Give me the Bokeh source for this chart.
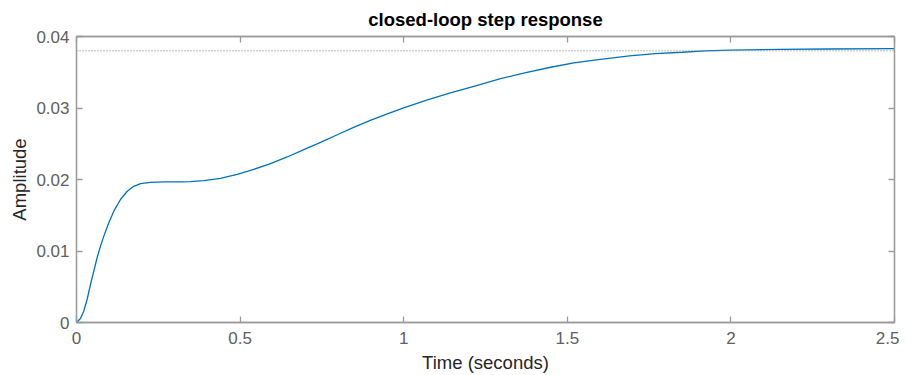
from bokeh.plotting import figure
from bokeh.models import Range1d, FixedTicker, LinearAxis, Span
from bokeh.embed import file_html
from bokeh.resources import INLINE

# Step response samples
time_s = [0, 0.0122, 0.0224, 0.0326, 0.0428, 0.053, 0.063, 0.0733, 0.0835, 0.0988,
          0.114, 0.1345, 0.155, 0.175, 0.1956, 0.226, 0.267, 0.318, 0.348, 0.389,
          0.44, 0.491, 0.542, 0.593, 0.644, 0.695, 0.746, 0.797, 0.847, 0.898,
          0.95, 1.0, 1.07, 1.143, 1.22, 1.296, 1.37, 1.449, 1.52, 1.601, 1.69,
          1.77, 1.85, 1.92, 2.0, 2.15, 2.3, 2.5]
amplitude = [0, 0.00056, 0.00162, 0.00325, 0.00534, 0.0072, 0.00906, 0.01068,
             0.01208, 0.01395, 0.01557, 0.0172, 0.01836, 0.01905, 0.01943, 0.0196,
             0.01966, 0.01968, 0.01971, 0.01985, 0.02017, 0.02073, 0.02143,
             0.02222, 0.02315, 0.02417, 0.02519, 0.02626, 0.02728, 0.02826,
             0.02919, 0.03003, 0.0311, 0.0321, 0.0331, 0.0341, 0.0349, 0.0357,
             0.0363, 0.0368, 0.0373, 0.0376, 0.0378, 0.0380, 0.0381, 0.0382,
             0.03825, 0.0383]
steady_state = 0.0380

x_ticks = [0, 0.5, 1, 1.5, 2, 2.5]
x_tick_labels = ["0", "0.5", "1", "1.5", "2", "2.5"]
y_ticks = [0, 0.01, 0.02, 0.03, 0.04]
y_tick_labels = ["0", "0.01", "0.02", "0.03", "0.04"]

FONT = "Liberation Sans"
AXIS_COLOR = "#9a9a9a"
LABEL_COLOR = "#606060"

p = figure(width=899, height=375, output_backend="svg", toolbar_location=None,
           x_range=Range1d(0, 2.5), y_range=Range1d(0, 0.04),
           title="closed-loop step response")
p.min_border_left = 76
p.min_border_top = 36
p.min_border_right = 5
p.min_border_bottom = 52

p.title.align = "center"
p.title.text_font = FONT
p.title.text_font_size = "18.5px"
p.title.text_font_style = "bold"
p.title.text_color = "#000000"
p.title.standoff = 13

p.xgrid.visible = False
p.ygrid.visible = False
p.outline_line_color = AXIS_COLOR
p.outline_line_width = 1.3
p.background_fill_color = "white"
p.border_fill_color = "white"

def style_axis(ax, ticks, labels):
    ax.ticker = FixedTicker(ticks=ticks)
    ax.major_label_overrides = {t: l for t, l in zip(ticks, labels)}
    ax.major_tick_in = 6
    ax.major_tick_out = 0
    ax.minor_tick_line_color = None
    ax.axis_line_color = AXIS_COLOR
    ax.axis_line_width = 1.3
    ax.major_tick_line_color = AXIS_COLOR
    ax.major_tick_line_width = 1.3
    ax.major_label_text_font = FONT
    ax.major_label_text_font_size = "17px"
    ax.major_label_text_color = LABEL_COLOR
    ax.axis_label_text_font = FONT
    ax.axis_label_text_font_size = "18.5px"
    ax.axis_label_text_font_style = "normal"
    ax.axis_label_text_color = "#262626"

style_axis(p.xaxis[0], x_ticks, x_tick_labels)
style_axis(p.yaxis[0], y_ticks, y_tick_labels)
p.xaxis[0].axis_label = "Time (seconds)"
p.yaxis[0].axis_label = "Amplitude"
p.xaxis[0].major_label_standoff = 9
p.yaxis[0].major_label_standoff = 7
p.xaxis[0].axis_label_standoff = 5
p.yaxis[0].axis_label_standoff = 3

for side, ticks, labels in (("right", y_ticks, y_tick_labels), ("above", x_ticks, x_tick_labels)):
    ax = LinearAxis()
    style_axis(ax, ticks, labels)
    ax.major_label_text_font_size = "0px"
    ax.major_label_text_color = None
    ax.major_label_standoff = 0
    p.add_layout(ax, side)

p.add_layout(Span(location=steady_state, dimension="width", line_color="#808080",
                  line_width=1, line_dash="1 2"))

p.line(time_s, amplitude, line_color="#0072BD", line_width=1.3)

open("out.html", "w").write(file_html(p, INLINE))
